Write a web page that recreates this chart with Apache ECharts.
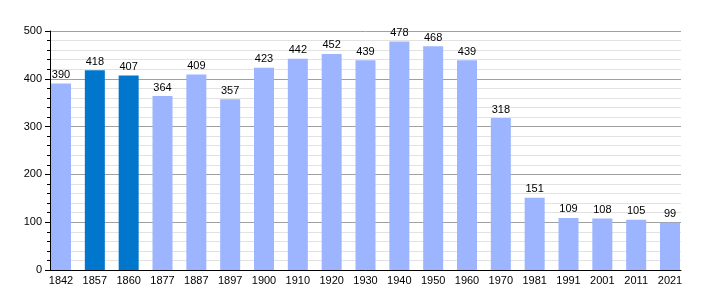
<!DOCTYPE html>
<html><head><meta charset="utf-8">
<script src="https://cdn.jsdelivr.net/npm/echarts@6/dist/echarts.min.js"></script>
<style>html,body{margin:0;padding:0;background:#fff}#c{width:710px;height:300px}</style>
</head><body><div id="c"></div>
<script>
var years = ['1842','1857','1860','1877','1887','1897','1900','1910','1920','1930','1940','1950','1960','1970','1981','1991','2001','2011','2021'];
var population = [390,418,407,364,409,357,423,442,452,439,478,468,439,318,151,109,108,105,99];
var highlighted = ['1857','1860'];
var yTicks = [0,100,200,300,400,500];

var chart = echarts.init(document.getElementById('c'));
var font = 'Liberation Sans, Arial, sans-serif';
chart.setOption({
  animation: false,
  grid: [
    {left: 61, right: 40, top: 31, bottom: 30},
    {left: 50, right: 29, top: 31, bottom: 30}
  ],
  xAxis: [
    {type: 'category', gridIndex: 0, data: years, boundaryGap: false,
     axisLine: {show: false}, axisTick: {show: false},
     axisLabel: {color: '#000', fontSize: 11, fontFamily: font, margin: 5, interval: 0}},
    {type: 'value', gridIndex: 1, min: 0, max: 1, show: true,
     axisLine: {show: true, lineStyle: {color: '#000', width: 1}},
     axisTick: {show: false}, axisLabel: {show: false}, splitLine: {show: false}}
  ],
  yAxis: [
    {type: 'value', gridIndex: 0, min: 0, max: 500, interval: 100, show: false, splitLine: {show: false}},
    {type: 'value', gridIndex: 1, min: yTicks[0], max: yTicks[yTicks.length-1], interval: 100,
     axisLine: {show: true, lineStyle: {color: '#000', width: 1}},
     axisTick: {show: true, inside: false, length: 5, lineStyle: {color: '#000'}},
     minorTick: {show: true, splitNumber: 5, length: 3, lineStyle: {color: '#000'}},
     axisLabel: {color: '#000', fontSize: 11, fontFamily: font, margin: 8},
     splitLine: {show: true, lineStyle: {color: '#a0a0a0', width: 1}},
     minorSplitLine: {show: true, lineStyle: {color: '#e2e2e2', width: 1}}}
  ],
  series: [{
    type: 'bar', xAxisIndex: 0, yAxisIndex: 0, clip: false, barWidth: 20, z: 5,
    data: population.map(function (v, i) {
      return {value: v, itemStyle: {color: highlighted.indexOf(years[i]) >= 0 ? '#0077cc' : '#9db4ff'}};
    }),
    label: {show: true, position: 'top', distance: 3, color: '#000', fontSize: 11, fontFamily: font}
  }]
});
</script></body></html>
